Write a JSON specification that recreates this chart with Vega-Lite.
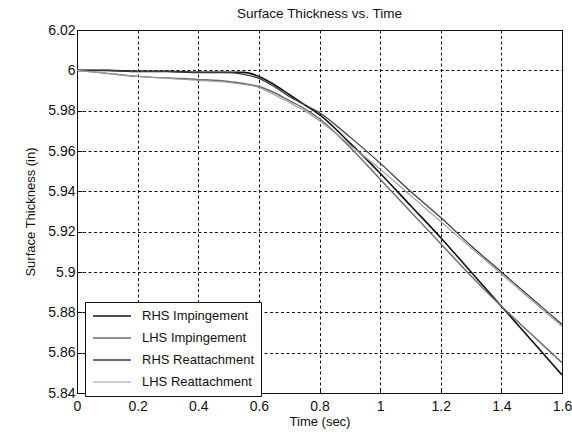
{
  "$schema": "https://vega.github.io/schema/vega-lite/v6.json",
  "width": 485,
  "height": 363,
  "autosize": {"type": "none"},
  "padding": {"left": 77, "top": 30, "right": 10, "bottom": 39},
  "background": "white",
  "title": {"text": "Surface Thickness vs. Time", "font": "Liberation Sans", "fontSize": 13.5, "fontWeight": "normal", "color": "#111", "offset": 3},
  "config": {
    "view": {"stroke": "#111", "strokeWidth": 1},
    "axis": {
      "labelFont": "Liberation Sans", "labelFontSize": 14, "labelColor": "#111",
      "titleFont": "Liberation Sans", "titleFontSize": 13, "titleFontWeight": "normal", "titleColor": "#111",
      "domainColor": "#111", "tickColor": "#111", "tickSize": -5,
      "grid": true, "gridColor": "#111", "gridDash": [3, 2.5], "gridWidth": 1, "gridOpacity": 1
    }
  },
  "data": {"values": [
    {"t": 0, "v": 6.0, "s": "RHS Impingement"},
    {"t": 0.1, "v": 6.0, "s": "RHS Impingement"},
    {"t": 0.2, "v": 5.9995, "s": "RHS Impingement"},
    {"t": 0.3, "v": 5.9995, "s": "RHS Impingement"},
    {"t": 0.4, "v": 5.999, "s": "RHS Impingement"},
    {"t": 0.5, "v": 5.999, "s": "RHS Impingement"},
    {"t": 0.55, "v": 5.999, "s": "RHS Impingement"},
    {"t": 0.6, "v": 5.997, "s": "RHS Impingement"},
    {"t": 0.65, "v": 5.993, "s": "RHS Impingement"},
    {"t": 0.7, "v": 5.988, "s": "RHS Impingement"},
    {"t": 0.75, "v": 5.983, "s": "RHS Impingement"},
    {"t": 0.8, "v": 5.978, "s": "RHS Impingement"},
    {"t": 0.9, "v": 5.964, "s": "RHS Impingement"},
    {"t": 1.0, "v": 5.949, "s": "RHS Impingement"},
    {"t": 1.1, "v": 5.933, "s": "RHS Impingement"},
    {"t": 1.2, "v": 5.917, "s": "RHS Impingement"},
    {"t": 1.3, "v": 5.9, "s": "RHS Impingement"},
    {"t": 1.4, "v": 5.883, "s": "RHS Impingement"},
    {"t": 1.5, "v": 5.866, "s": "RHS Impingement"},
    {"t": 1.6, "v": 5.849, "s": "RHS Impingement"},

    {"t": 0, "v": 6.0, "s": "LHS Impingement"},
    {"t": 0.1, "v": 5.9985, "s": "LHS Impingement"},
    {"t": 0.2, "v": 5.997, "s": "LHS Impingement"},
    {"t": 0.3, "v": 5.9962, "s": "LHS Impingement"},
    {"t": 0.4, "v": 5.9955, "s": "LHS Impingement"},
    {"t": 0.5, "v": 5.9945, "s": "LHS Impingement"},
    {"t": 0.55, "v": 5.9935, "s": "LHS Impingement"},
    {"t": 0.6, "v": 5.992, "s": "LHS Impingement"},
    {"t": 0.65, "v": 5.989, "s": "LHS Impingement"},
    {"t": 0.7, "v": 5.985, "s": "LHS Impingement"},
    {"t": 0.75, "v": 5.981, "s": "LHS Impingement"},
    {"t": 0.8, "v": 5.976, "s": "LHS Impingement"},
    {"t": 0.9, "v": 5.962, "s": "LHS Impingement"},
    {"t": 1.0, "v": 5.946, "s": "LHS Impingement"},
    {"t": 1.1, "v": 5.93, "s": "LHS Impingement"},
    {"t": 1.2, "v": 5.914, "s": "LHS Impingement"},
    {"t": 1.3, "v": 5.898, "s": "LHS Impingement"},
    {"t": 1.4, "v": 5.883, "s": "LHS Impingement"},
    {"t": 1.5, "v": 5.869, "s": "LHS Impingement"},
    {"t": 1.6, "v": 5.855, "s": "LHS Impingement"},

    {"t": 0, "v": 6.0, "s": "RHS Reattachment"},
    {"t": 0.1, "v": 6.0, "s": "RHS Reattachment"},
    {"t": 0.2, "v": 5.9995, "s": "RHS Reattachment"},
    {"t": 0.3, "v": 5.9995, "s": "RHS Reattachment"},
    {"t": 0.4, "v": 5.999, "s": "RHS Reattachment"},
    {"t": 0.5, "v": 5.999, "s": "RHS Reattachment"},
    {"t": 0.55, "v": 5.998, "s": "RHS Reattachment"},
    {"t": 0.6, "v": 5.996, "s": "RHS Reattachment"},
    {"t": 0.65, "v": 5.992, "s": "RHS Reattachment"},
    {"t": 0.7, "v": 5.987, "s": "RHS Reattachment"},
    {"t": 0.75, "v": 5.983, "s": "RHS Reattachment"},
    {"t": 0.8, "v": 5.979, "s": "RHS Reattachment"},
    {"t": 0.9, "v": 5.967, "s": "RHS Reattachment"},
    {"t": 1.0, "v": 5.954, "s": "RHS Reattachment"},
    {"t": 1.1, "v": 5.94, "s": "RHS Reattachment"},
    {"t": 1.2, "v": 5.927, "s": "RHS Reattachment"},
    {"t": 1.3, "v": 5.913, "s": "RHS Reattachment"},
    {"t": 1.4, "v": 5.9, "s": "RHS Reattachment"},
    {"t": 1.5, "v": 5.887, "s": "RHS Reattachment"},
    {"t": 1.6, "v": 5.874, "s": "RHS Reattachment"},

    {"t": 0, "v": 6.0, "s": "LHS Reattachment"},
    {"t": 0.1, "v": 5.9985, "s": "LHS Reattachment"},
    {"t": 0.2, "v": 5.997, "s": "LHS Reattachment"},
    {"t": 0.3, "v": 5.996, "s": "LHS Reattachment"},
    {"t": 0.4, "v": 5.995, "s": "LHS Reattachment"},
    {"t": 0.5, "v": 5.994, "s": "LHS Reattachment"},
    {"t": 0.55, "v": 5.993, "s": "LHS Reattachment"},
    {"t": 0.6, "v": 5.9915, "s": "LHS Reattachment"},
    {"t": 0.65, "v": 5.988, "s": "LHS Reattachment"},
    {"t": 0.7, "v": 5.984, "s": "LHS Reattachment"},
    {"t": 0.75, "v": 5.98, "s": "LHS Reattachment"},
    {"t": 0.8, "v": 5.975, "s": "LHS Reattachment"},
    {"t": 0.9, "v": 5.963, "s": "LHS Reattachment"},
    {"t": 1.0, "v": 5.951, "s": "LHS Reattachment"},
    {"t": 1.1, "v": 5.938, "s": "LHS Reattachment"},
    {"t": 1.2, "v": 5.925, "s": "LHS Reattachment"},
    {"t": 1.3, "v": 5.912, "s": "LHS Reattachment"},
    {"t": 1.4, "v": 5.899, "s": "LHS Reattachment"},
    {"t": 1.5, "v": 5.886, "s": "LHS Reattachment"},
    {"t": 1.6, "v": 5.873, "s": "LHS Reattachment"}
  ]},
  "mark": {"type": "line", "interpolate": "monotone", "clip": true},
  "encoding": {
    "x": {
      "field": "t", "type": "quantitative",
      "scale": {"domain": [0, 1.6], "nice": false, "zero": false},
      "axis": {"title": "Time (sec)", "values": [0, 0.2, 0.4, 0.6, 0.8, 1, 1.2, 1.4, 1.6], "format": ".1~f", "labelPadding": 11, "titlePadding": 2, "labelFlush": false}
    },
    "y": {
      "field": "v", "type": "quantitative",
      "scale": {"domain": [5.84, 6.02], "nice": false, "zero": false},
      "axis": {"title": "Surface Thickness (in)", "values": [5.84, 5.86, 5.88, 5.9, 5.92, 5.94, 5.96, 5.98, 6, 6.02], "format": ".2~f", "labelPadding": 7, "titlePadding": 10}
    },
    "color": {
      "field": "s", "type": "nominal",
      "scale": {"domain": ["RHS Impingement", "LHS Impingement", "RHS Reattachment", "LHS Reattachment"], "range": ["#111111", "#6a6a6a", "#3c3c3c", "#9a9a9a"]},
      "legend": {
        "title": null, "orient": "none", "legendX": 8, "legendY": 272,
        "direction": "vertical",
        "symbolType": "M-1,0H5.33", "symbolSize": 144, "symbolStrokeWidth": 1.3, "symbolFillColor": "transparent",
        "labelFont": "Liberation Sans", "labelFontSize": 13, "labelColor": "#111",
        "labelOffset": 36, "rowPadding": 8,
        "padding": 7, "strokeColor": "#111", "fillColor": "white", "cornerRadius": 0
      }
    },
    "strokeWidth": {
      "field": "s", "type": "nominal",
      "scale": {"domain": ["RHS Impingement", "LHS Impingement", "RHS Reattachment", "LHS Reattachment"], "range": [1.6, 1.1, 1.1, 1.1]},
      "legend": null
    }
  }
}
